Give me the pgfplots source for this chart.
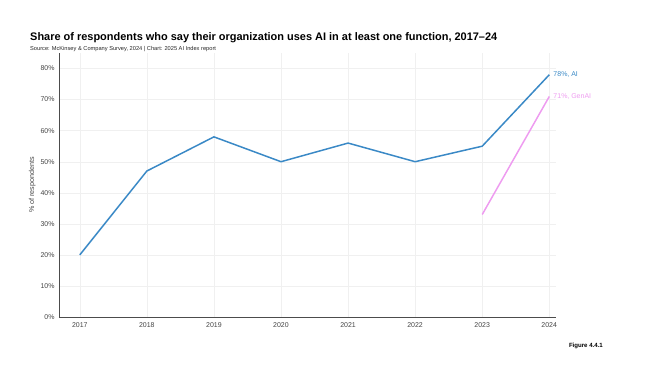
\documentclass[border=0pt]{standalone}
\usepackage{pgfplots}
\pgfplotsset{compat=1.18}
\usepackage{fontspec}
\setmainfont{Liberation Sans}
\definecolor{aiblue}{HTML}{3A89C6}
\definecolor{genpink}{HTML}{EE9CF0}
\definecolor{tickgray}{HTML}{444444}
\begin{document}
\begin{tikzpicture}
\useasboundingbox (0bp,0bp) rectangle (660bp,-369bp);
\node[anchor=base west,inner sep=0,font=\bfseries\fontsize{11}{13}\selectfont] at (30bp,-40bp) {Share of respondents who say their organization uses AI in at least one function, 2017--24};
\node[anchor=base west,inner sep=0,font=\fontsize{5.7}{7}\selectfont,text=black!85] at (30bp,-50bp) {Source: McKinsey \& Company Survey, 2024 | Chart: 2025 AI Index report};
\node[anchor=base east,inner sep=0,font=\bfseries\fontsize{6.1}{7}\selectfont] at (603bp,-347bp) {Figure 4.4.1};
\begin{axis}[
  at={(59bp,-317bp)}, anchor=south west,
  width=497bp, height=264bp, scale only axis,
  xmin=2016.69, xmax=2024.1,
  ymin=0, ymax=85,
  axis lines=left,
  axis line style={-, draw=black!70, line width=0.8pt},
  xtick={2017,...,2024},
  ytick={0,10,...,80},
  xticklabel style={/pgf/number format/1000 sep={}},
  yticklabel={\pgfmathprintnumber{\tick}\%},
  /pgf/number format/assume math mode=true,
  tick label style={font=\fontsize{7}{8}\selectfont, text=tickgray},
  major tick length=0pt,
  grid=major,
  grid style={draw=black!6, line width=0.4pt},
  ylabel={\% of respondents},
  every axis y label/.style={at={(ticklabel cs:0.5)}, xshift=-5bp, rotate=90, anchor=center, font=\fontsize{7.2}{8}\selectfont, text=tickgray},
  xticklabel shift=2bp,
  yticklabel shift=1bp,
  clip=false,
]
\addplot[aiblue, line width=1.5pt] coordinates {
  (2017,20) (2018,47) (2019,58) (2020,50) (2021,56) (2022,50) (2023,55) (2024,78)
};
\addplot[genpink, line width=1.5pt] coordinates {
  (2023,33) (2024,71)
};
\node[anchor=west, font=\fontsize{7}{8}\selectfont, text=aiblue, inner sep=0, xshift=4bp] at (axis cs:2024,78) {78\%, AI};
\node[anchor=west, font=\fontsize{7}{8}\selectfont, text=genpink, inner sep=0, xshift=4bp] at (axis cs:2024,71) {71\%, GenAI};
\end{axis}
\end{tikzpicture}
\end{document}
